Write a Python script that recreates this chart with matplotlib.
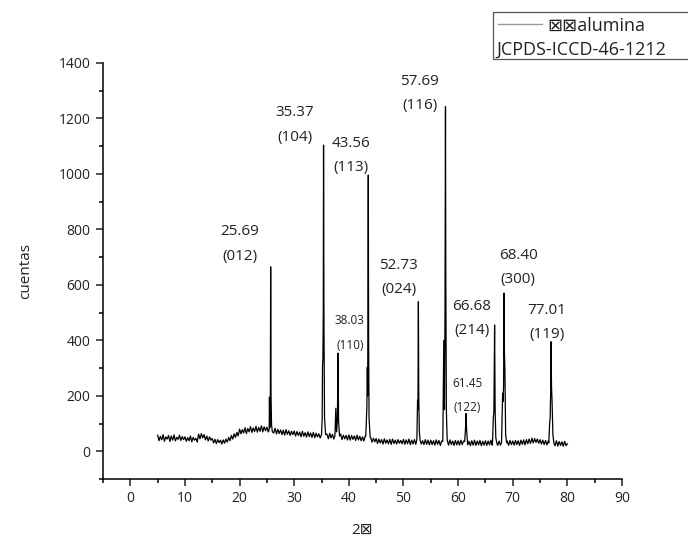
"""
XRD pattern of alumina with indexed peaks (JCPDS-ICCD-46-1212)
"""

import numpy as np
import matplotlib
matplotlib.use('Agg')
import matplotlib.pyplot as plt
from matplotlib.ticker import MultipleLocator
from matplotlib.patches import Rectangle
from matplotlib.lines import Line2D

plt.rcParams['font.family'] = ['Open Sans', 'DejaVu Sans']

# ---- data ----
# background counts, one value every 0.25 deg from 5 to 80 (2theta)
bg_start, bg_step = 5.0, 0.25
bg_counts = [
    58, 38, 54, 41, 60, 36, 52, 44, 57, 35, 55, 40, 59, 37, 50, 43, 58, 39, 53, 42,
    52, 36, 49, 38, 55, 34, 50, 40, 47, 33, 62, 45, 64, 48, 60, 41, 55, 37, 52, 40,
    46, 30, 43, 28, 42, 31, 40, 26, 41, 29, 44, 33, 50, 38, 57, 44, 63, 50, 68, 55,
    80, 63, 78, 66, 85, 64, 82, 70, 89, 68, 84, 71, 90, 69, 86, 72, 92, 70, 88, 74,
    87, 70, 85, 72, 80, 66, 83, 62, 79, 64, 77, 60, 76, 58, 78, 61, 74, 57, 72, 60,
    73, 55, 71, 57, 69, 52, 72, 54, 67, 51, 70, 53, 66, 50, 68, 49, 65, 52, 63, 48,
    64, 47, 66, 50, 62, 45, 65, 48, 61, 44, 63, 46, 60, 43, 62, 42, 58, 45, 57, 41,
    59, 40, 57, 43, 55, 39, 58, 41, 54, 38, 52, 37, 55, 36, 50, 35, 49, 33, 47, 34,
    46, 28, 44, 30, 42, 26, 45, 29, 41, 27, 43, 25, 44, 28, 40, 26, 42, 29, 39, 27,
    43, 25, 41, 27, 44, 24, 40, 26, 42, 25, 39, 23, 41, 26, 38, 24, 42, 25, 40, 23,
    40, 24, 38, 22, 41, 25, 39, 21, 37, 24, 40, 23, 38, 22, 41, 24, 37, 21, 39, 23,
    38, 22, 40, 24, 37, 21, 39, 23, 36, 20, 38, 22, 40, 21, 37, 23, 39, 20, 36, 22,
    38, 21, 37, 23, 40, 22, 36, 24, 39, 21, 37, 22, 38, 20, 40, 23, 37, 21, 39, 24,
    37, 22, 39, 24, 38, 21, 40, 25, 41, 23, 42, 27, 44, 28, 47, 30, 46, 32, 44, 29,
    42, 26, 40, 24, 39, 23, 38, 22, 37, 21, 36, 20, 38, 19, 35, 21, 34, 18, 36, 20,
    27,
]

# peak profiles (2theta, counts)
peak_theta = [
    [25.30, 25.42, 25.47, 25.53, 25.62, 25.69, 25.76, 25.85, 26.00],
    [35.00, 35.12, 35.18, 35.25, 35.32, 35.37, 35.45, 35.55, 35.75],
    [37.45, 37.62, 37.75, 37.90, 38.03, 38.12, 38.30],
    [43.10, 43.30, 43.38, 43.45, 43.56, 43.62, 43.70, 43.90],
    [52.45, 52.58, 52.65, 52.73, 52.80, 52.90, 53.05],
    [57.20, 57.38, 57.50, 57.60, 57.69, 57.75, 57.80, 57.85, 58.00],
    [61.20, 61.35, 61.45, 61.55, 61.70],
    [66.30, 66.45, 66.55, 66.68, 66.78, 66.90, 67.05],
    [67.95, 68.15, 68.25, 68.33, 68.40, 68.48, 68.56, 68.70, 68.90],
    [76.60, 76.75, 76.85, 76.95, 77.01, 77.10, 77.20, 77.35, 77.55],
]
peak_counts = [
    [70, 80, 195, 85, 120, 665, 200, 95, 70],
    [60, 120, 310, 330, 500, 1104, 450, 120, 60],
    [55, 155, 70, 110, 354, 110, 55],
    [55, 160, 303, 200, 996, 400, 120, 50],
    [42, 184, 150, 539, 200, 70, 40],
    [35, 400, 150, 500, 1243, 629, 400, 150, 40],
    [35, 80, 136, 80, 35],
    [32, 124, 140, 455, 150, 50, 32],
    [32, 209, 180, 240, 570, 353, 300, 60, 30],
    [30, 100, 120, 220, 395, 232, 180, 60, 28],
]

# peak labels: position, (hkl), label x / y of upper line, small font or not
label_pos = ['25.69', '35.37', '43.56', '38.03', '52.73', '57.69', '61.45', '66.68', '68.40', '77.01']
label_hkl = ['(012)', '(104)', '(113)', '(110)', '(024)', '(116)', '(122)', '(214)', '(300)', '(119)']
label_x = [20.1, 30.1, 40.4, 40.2, 49.1, 53.0, 61.7, 62.5, 71.0, 76.3]
label_y = [791, 1221, 1110, 470, 671, 1333, 246, 523, 707, 509]
label_small = [False, False, False, True, False, False, True, False, False, False]

# ---- assemble the pattern ----
bg_theta = bg_start + bg_step * np.arange(len(bg_counts))
bg_counts = np.array(bg_counts, dtype=float)
keep = np.ones(len(bg_theta), dtype=bool)
for th in peak_theta:
    keep &= ~((bg_theta >= th[0]) & (bg_theta <= th[-1]))

theta = np.concatenate([bg_theta[keep]] + [np.array(t) for t in peak_theta])
counts = np.concatenate([bg_counts[keep]] + [np.array(c, dtype=float) for c in peak_counts])
order = np.argsort(theta)
theta, counts = theta[order], counts[order]

# ---- plot ----
W, H = 688, 537
fig = plt.figure(figsize=(W / 100, H / 100), dpi=100)
ax = fig.add_axes([103 / W, 1 - 479 / H, 519 / W, 416 / H])

ax.plot(theta, counts, color='black', linewidth=0.9)

txt_color = '#222222'
for pos, hkl, lx, ly, small in zip(label_pos, label_hkl, label_x, label_y, label_small):
    fs = 8.5 if small else 11
    ax.text(lx, ly, pos, ha='center', va='center', fontsize=fs, color=txt_color)
    ax.text(lx, ly - 88, hkl, ha='center', va='center', fontsize=fs, color=txt_color)

ax.set_xlim(-5, 90)
ax.set_ylim(-100, 1400)
ax.xaxis.set_major_locator(MultipleLocator(10))
ax.xaxis.set_minor_locator(MultipleLocator(5))
ax.yaxis.set_major_locator(MultipleLocator(200))
ax.yaxis.set_minor_locator(MultipleLocator(100))
for s in ['top', 'right']:
    ax.spines[s].set_visible(False)
for s in ['left', 'bottom']:
    ax.spines[s].set_linewidth(1.1)
ax.tick_params(which='major', direction='out', length=5, width=1.1, labelsize=10,
               pad=4, colors=txt_color)
ax.tick_params(which='minor', direction='out', length=3, width=1.1)

ax.set_xlabel('2⊠', fontsize=11, labelpad=12, color=txt_color)
ax.set_ylabel('cuentas', fontsize=11, labelpad=18, color=txt_color)

# legend box, drawn in figure pixels
fig.patches.append(Rectangle((493 / W, 1 - 59 / H), (690 - 493) / W, 47 / H,
                             transform=fig.transFigure, fill=False,
                             edgecolor='#555555', linewidth=0.9))
fig.lines.append(Line2D([498 / W, 542 / W], [1 - 24 / H, 1 - 24 / H],
                        transform=fig.transFigure, color='#999999', linewidth=1))
fig.text(547 / W, 1 - 26 / H, '⊠⊠alumina', fontsize=13, va='center', ha='left',
         color=txt_color)
fig.text(496 / W, 1 - 50 / H, 'JCPDS-ICCD-46-1212', fontsize=13, va='center', ha='left',
         color=txt_color)

plt.savefig('out.png', dpi=100)
